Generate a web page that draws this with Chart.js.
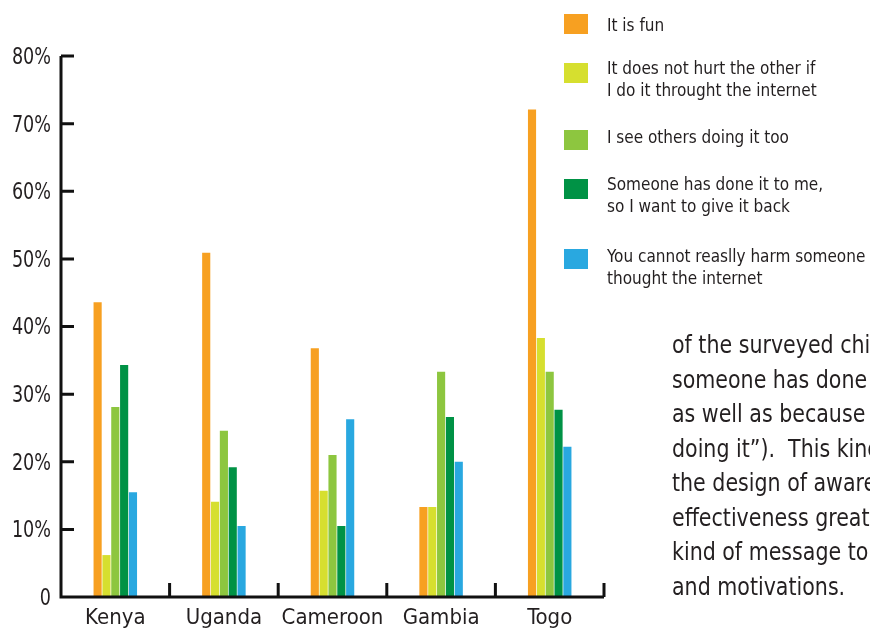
<!DOCTYPE html>
<html>
<head>
<meta charset="utf-8">
<script src="https://cdn.jsdelivr.net/npm/chart.js@4.4.0/dist/chart.umd.min.js"></script>
<style>
  html, body { margin: 0; padding: 0; background: #fff; }
  body { width: 870px; height: 628px; position: relative; overflow: hidden;
         font-family: "Liberation Sans Narrow", "DejaVu Sans Condensed", sans-serif; color: #231f20; }
  #wrap { position: absolute; left: 0; top: 0; width: 870px; height: 628px; }
  .sw { position: absolute; left: 564px; width: 24px; height: 20px; }
  .lt { position: absolute; left: 607px; font-size: 17px; line-height: 22px; white-space: pre; }
  #para { position: absolute; left: 672px; top: 328px; width: 198px; overflow: hidden; }
  #para div { font-size: 25px; line-height: 34.5px; white-space: pre; color: #231f20;
              transform: scaleX(0.915); transform-origin: 0 0; width: 240px; }
</style>
</head>
<body>
<div id="wrap"><canvas id="chart" width="870" height="628"></canvas></div>
<div id="legend"></div>
<div id="para"><div id="paraText"></div></div>
<script>
// datos (porcentajes)
const countries = ['Kenya', 'Uganda', 'Cameroon', 'Gambia', 'Togo'];
const reasons = [
  'It is fun',
  'It does not hurt the other if\nI do it throught the internet',
  'I see others doing it too',
  'Someone has done it to me,\nso I want to give it back',
  'You cannot reaslly harm someone\nthought the internet'
];
const colors = ['#f7a021', '#d6df2f', '#8dc63f', '#009245', '#29a8e0'];
const itsFun      = [43.6, 50.9, 36.8, 13.3, 72.1];
const noHurt      = [6.2, 14.1, 15.7, 13.3, 38.3];
const othersToo   = [28.1, 24.6, 21.0, 33.3, 33.3];
const giveItBack  = [34.3, 19.2, 10.5, 26.6, 27.7];
const cannotHarm  = [15.5, 10.5, 26.3, 20.0, 22.2];
const yTicks = [0, 10, 20, 30, 40, 50, 60, 70, 80];

const paraLines = [
  'of the surveyed children said they do it because',
  'someone has done it to them',
  'as well as because they see others',
  'doing it\u201d).  This kind of information',
  'the design of awareness campaigns',
  'effectiveness greatly depends on',
  'kind of message to the children\u2019s',
  'and motivations.'
];

const fontFam = '"Liberation Sans Narrow", "DejaVu Sans Condensed", sans-serif';

// leyenda en html
const legendTops = [14, 63, 130, 179, 249];
const textTops = [14, 57, 126, 173, 245];
const legend = document.getElementById('legend');
reasons.forEach((r, i) => {
  const sw = document.createElement('div');
  sw.className = 'sw';
  sw.style.top = legendTops[i] + 'px';
  sw.style.background = colors[i];
  legend.appendChild(sw);
  const t = document.createElement('div');
  t.className = 'lt';
  t.style.top = textTops[i] + 'px';
  t.textContent = r;
  legend.appendChild(t);
});
document.getElementById('paraText').textContent = paraLines.join('\n');

// ejes dibujados a mano: lineas gruesas, marcas hacia dentro y etiquetas estrechas
const axisPlugin = {
  id: 'axisPlugin',
  afterDraw(chart) {
    const ctx = chart.ctx;
    const x = chart.scales.x, y = chart.scales.y;
    const a = chart.chartArea;
    ctx.save();
    ctx.strokeStyle = '#111';
    ctx.lineWidth = 3;
    ctx.lineCap = 'butt';
    ctx.beginPath();
    ctx.moveTo(a.left, y.getPixelForValue(80));
    ctx.lineTo(a.left, a.bottom + 1.5);
    ctx.moveTo(a.left - 1.5, a.bottom);
    ctx.lineTo(a.right, a.bottom);
    yTicks.forEach(v => {
      if (v === 0) return;
      const py = y.getPixelForValue(v);
      ctx.moveTo(a.left, py);
      ctx.lineTo(a.left + 13, py);
    });
    const half = (x.getPixelForValue(1) - x.getPixelForValue(0)) / 2;
    countries.forEach((c, i) => {
      const px = x.getPixelForValue(i) + half;
      ctx.moveTo(px, a.bottom);
      ctx.lineTo(px, a.bottom - 14);
    });
    ctx.stroke();

    // etiquetas del eje y
    ctx.fillStyle = '#231f20';
    ctx.font = '23px ' + fontFam;
    ctx.textAlign = 'right';
    ctx.textBaseline = 'middle';
    yTicks.forEach(v => {
      const py = y.getPixelForValue(v);
      ctx.save();
      ctx.translate(a.left - 10, py + 2);
      ctx.scale(0.85, 1);
      ctx.fillText(v === 0 ? '0' : v + '%', 0, 0);
      ctx.restore();
    });
    ctx.restore();
  }
};

const seriesData = [itsFun, noHurt, othersToo, giveItBack, cannotHarm];

new Chart(document.getElementById('chart'), {
  type: 'bar',
  data: {
    labels: countries,
    datasets: seriesData.map((d, i) => ({
      label: reasons[i],
      data: d,
      backgroundColor: colors[i],
      barPercentage: 0.92,
      categoryPercentage: 0.407
    }))
  },
  options: {
    responsive: false,
    animation: false,
    layout: { padding: { top: 56, right: 266, left: 0, bottom: 0 } },
    plugins: { legend: { display: false }, tooltip: { enabled: false } },
    scales: {
      x: {
        grid: { display: false, drawTicks: false },
        border: { display: false },
        afterFit: s => { s.height = 31; },
        ticks: {
          color: '#231f20',
          padding: 8,
          font: { family: fontFam, size: 22 }
        }
      },
      y: {
        min: 0,
        max: 80,
        grid: { display: false, drawTicks: false },
        border: { display: false },
        afterFit: s => { s.width = 61; },
        ticks: { stepSize: 10, display: false }
      }
    }
  },
  plugins: [axisPlugin]
});
</script>
</body>
</html>
